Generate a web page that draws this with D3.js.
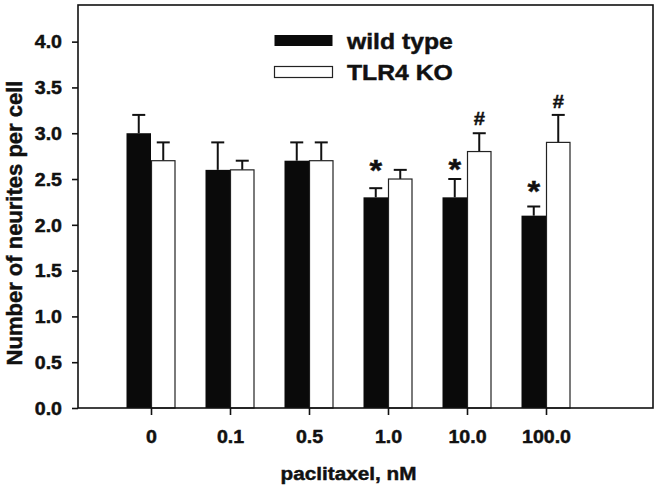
<!DOCTYPE html>
<html>
<head>
<meta charset="utf-8">
<script src="https://cdn.jsdelivr.net/npm/d3@7"></script>
<style>
  html, body { margin: 0; padding: 0; background: #fff; }
  text { font-family: "Liberation Sans", Arial, sans-serif; font-weight: bold; fill: #111; stroke: #111; stroke-width: 0.45px; }
</style>
</head>
<body>
<svg id="chart" width="660" height="491"></svg>
<script>
// ---- data ----
const categories = ["0", "0.1", "0.5", "1.0", "10.0", "100.0"];
const seriesNames = ["wild type", "TLR4 KO"];
const wildType   = [3.0, 2.6, 2.7, 2.3, 2.3, 2.1];
const wildTypeSE = [0.2, 0.3, 0.2, 0.1, 0.2, 0.1];
const tlr4KO     = [2.7, 2.6, 2.7, 2.5, 2.8, 2.9];
const tlr4KOSE   = [0.2, 0.1, 0.2, 0.1, 0.2, 0.3];
// significance marks: [category, series index, symbol, value level of glyph centre]
const marks = [
  ["1.0", 0, "*", 2.66], ["10.0", 0, "*", 2.67], ["100.0", 0, "*", 2.43],
  ["10.0", 1, "#", 3.16], ["100.0", 1, "#", 3.35]
];
const yTicks = [0, 0.5, 1, 1.5, 2, 2.5, 3, 3.5, 4];
const yMax = 4.4;

// ---- layout ----
const svg = d3.select("#chart");
const frame = { left: 78, top: 5, right: 653, bottom: 408 };
const x = d3.scalePoint().domain(categories).range([151, 546]);
const y = d3.scaleLinear().domain([0, yMax]).range([frame.bottom, frame.top]);
const barW = 24.5;
const capW = 13;
const sx = 1.12; // horizontal glyph stretch of the reference
const FONT = '"Liberation Sans", Arial, sans-serif';

const series = [
  { name: seriesNames[0], vals: wildType, se: wildTypeSE, fill: "#0a0a0a", off: -barW },
  { name: seriesNames[1], vals: tlr4KO,   se: tlr4KOSE,   fill: "#ffffff", off: 0 }
];

// error bars (drawn behind bars)
series.forEach(s => {
  const g = svg.append("g");
  categories.forEach((c, i) => {
    const cx = x(c) + s.off + barW / 2;
    g.append("line").attr("x1", cx).attr("x2", cx)
      .attr("y1", y(s.vals[i])).attr("y2", y(s.vals[i] + s.se[i]))
      .attr("stroke", "#111").attr("stroke-width", 2);
    g.append("line").attr("x1", cx - capW / 2).attr("x2", cx + capW / 2)
      .attr("y1", y(s.vals[i] + s.se[i])).attr("y2", y(s.vals[i] + s.se[i]))
      .attr("stroke", "#111").attr("stroke-width", 2);
  });
});

// bars
series.forEach(s => {
  svg.append("g").selectAll("rect").data(categories).join("rect")
    .attr("x", (c) => x(c) + s.off + (s.fill === "#ffffff" ? 0.5 : 0))
    .attr("y", (c, i) => y(s.vals[i]))
    .attr("width", s.fill === "#ffffff" ? barW - 1 : barW)
    .attr("height", (c, i) => y(0) - y(s.vals[i]))
    .attr("fill", s.fill)
    .attr("stroke", s.fill === "#ffffff" ? "#222" : "none")
    .attr("stroke-width", 1.2);
});

// frame
svg.append("rect")
  .attr("x", frame.left).attr("y", frame.top)
  .attr("width", frame.right - frame.left).attr("height", frame.bottom - frame.top)
  .attr("fill", "none").attr("stroke", "#111").attr("stroke-width", 1.6);

function styleText(sel, size) {
  sel.style("font-size", size + "px").style("font-family", FONT)
    .style("font-weight", "bold").attr("fill", "#111")
    .attr("stroke", "#111").attr("stroke-width", 0.45);
}

// y axis
const yAxis = svg.append("g").attr("transform", `translate(${frame.left},0)`)
  .call(d3.axisLeft(y).tickValues(yTicks).tickFormat(d3.format(".1f")).tickSize(6).tickSizeOuter(0));
yAxis.select(".domain").remove();
yAxis.selectAll(".tick line").attr("stroke", "#111").attr("stroke-width", 1.6);
yAxis.selectAll(".tick text")
  .attr("x", null).attr("dy", null)
  .attr("transform", `translate(-16,6.3) scale(${sx},1)`)
  .attr("text-anchor", "end")
  .call(styleText, 17.5);

// x axis
const xAxis = svg.append("g").attr("transform", `translate(0,${frame.bottom})`)
  .call(d3.axisBottom(x).tickSize(7).tickSizeOuter(0));
xAxis.select(".domain").remove();
xAxis.selectAll(".tick line").attr("stroke", "#111").attr("stroke-width", 1.6);
xAxis.selectAll(".tick text")
  .attr("y", null).attr("dy", null)
  .attr("transform", `translate(0,34.5) scale(${sx},1)`)
  .attr("text-anchor", "middle")
  .call(styleText, 17.5);

// axis titles
svg.append("text")
  .attr("transform", `translate(${(x.range()[0] + x.range()[1]) / 2},480) scale(${sx},1)`)
  .attr("text-anchor", "middle").call(styleText, 18.5)
  .text("paclitaxel, nM");
svg.append("text")
  .attr("transform", `translate(22,223) rotate(-90)`)
  .attr("text-anchor", "middle").call(styleText, 22)
  .text("Number of neurites per cell");

// significance marks
marks.forEach(([c, si, sym, lvl]) => {
  const s = series[si];
  const cx = x(c) + s.off + barW / 2;
  const fs = sym === "*" ? 29 : 18;
  const shift = sym === "*" ? 0.55 * fs : 0.36 * fs;
  svg.append("text")
    .attr("transform", `translate(${cx},${y(lvl) + shift}) scale(${sx},1)`)
    .attr("text-anchor", "middle").call(styleText, fs)
    .attr("stroke-width", sym === "#" ? 0.8 : 0.45)
    .text(sym);
});

// legend
const leg = svg.append("g");
series.forEach((s, i) => {
  const ly = 35 + i * 31.5;
  leg.append("rect").attr("x", 274.5).attr("y", ly).attr("width", 58).attr("height", 11)
    .attr("fill", s.fill).attr("stroke", s.fill === "#ffffff" ? "#222" : "none").attr("stroke-width", 1.2);
  leg.append("text")
    .attr("transform", `translate(347,${ly + 13.5}) scale(1.15,1)`)
    .call(styleText, 21.5).text(s.name);
});
</script>
</body>
</html>
